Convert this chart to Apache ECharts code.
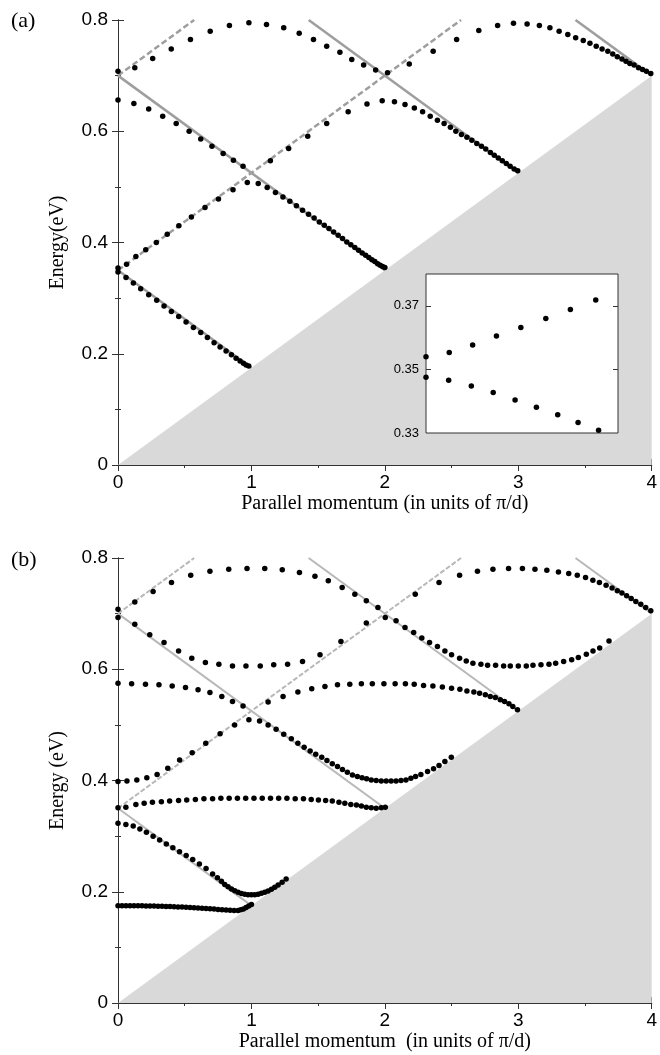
<!DOCTYPE html>
<html style="height: 100%">
<head>
<meta charset="utf-8">
<script src="https://cdn.jsdelivr.net/npm/echarts@6/dist/echarts.min.js"></script>
</head>
<body style="height: 100%; margin: 0; background: #fff">
<div id="container" style="width: 660px; height: 1055px"></div>
<script type="text/javascript">
// light cone and folded light lines (shared by both panels)
var lightCone = [[0, 0], [4, 0.7]];
var upLines = [[[0, 0.35], [2.571, 0.8]], [[0, 0.7], [0.571, 0.8]]];
var downLines = [[[0, 0.35], [1, 0.175]], [[0, 0.7], [2, 0.35]], [[1.429, 0.8], [3, 0.525]], [[3.429, 0.8], [4, 0.7]]];

// panel (a) bands
var aBand1 = [[0,0.708],[0.126,0.714],[0.260,0.731],[0.399,0.748],[0.543,0.765],[0.691,0.780],[0.835,0.790],[0.981,0.795],[1.113,0.792],[1.242,0.786],[1.358,0.776],[1.465,0.765],[1.564,0.753],[1.663,0.742],[1.752,0.729],[1.841,0.719],[1.931,0.710],[2.02,0.705],[2.183,0.721],[2.362,0.744],[2.538,0.765],[2.704,0.781],[2.845,0.790],[2.964,0.794],[3.066,0.793],[3.158,0.790],[3.237,0.786],[3.306,0.780],[3.371,0.774],[3.430,0.768],[3.487,0.763],[3.537,0.758],[3.584,0.753],[3.628,0.748],[3.671,0.744],[3.708,0.739],[3.742,0.734],[3.777,0.730],[3.807,0.726],[3.836,0.722],[3.868,0.719],[3.901,0.714],[3.931,0.711],[3.960,0.708],[3.993,0.704]];
var aBand2 = [[0,0.656],[0.119,0.650],[0.230,0.640],[0.335,0.627],[0.436,0.614],[0.533,0.600],[0.620,0.586],[0.704,0.573],[0.788,0.560],[0.865,0.548],[0.937,0.537],[1.142,0.547],[1.279,0.569],[1.422,0.591],[1.564,0.614],[1.725,0.635],[1.866,0.649],[1.980,0.655],[2.072,0.653],[2.151,0.648],[2.221,0.642],[2.283,0.635],[2.340,0.627],[2.394,0.620],[2.444,0.614],[2.491,0.607],[2.532,0.600],[2.574,0.594],[2.615,0.589],[2.652,0.584],[2.689,0.578],[2.724,0.573],[2.756,0.568],[2.791,0.562],[2.820,0.557],[2.850,0.552],[2.880,0.547],[2.910,0.542],[2.939,0.537],[2.969,0.532],[2.996,0.529]];
var aBand3 = [[0,0.354],[0.064,0.361],[0.134,0.375],[0.208,0.387],[0.287,0.400],[0.369,0.415],[0.456,0.430],[0.550,0.446],[0.652,0.463],[0.753,0.478],[0.862,0.495],[0.969,0.508],[1.051,0.506],[1.118,0.499],[1.180,0.490],[1.236,0.482],[1.288,0.474],[1.337,0.466],[1.383,0.458],[1.428,0.451],[1.470,0.444],[1.509,0.437],[1.546,0.431],[1.581,0.425],[1.616,0.419],[1.650,0.413],[1.683,0.407],[1.715,0.401],[1.745,0.396],[1.775,0.391],[1.803,0.386],[1.830,0.381],[1.856,0.377],[1.880,0.373],[1.903,0.369],[1.925,0.366],[1.946,0.362],[1.965,0.359],[1.983,0.357],[2.000,0.355]];
var aBand4 = [[0,0.347],[0.06,0.337],[0.115,0.327],[0.17,0.317],[0.23,0.306],[0.29,0.296],[0.345,0.286],[0.40,0.276],[0.455,0.267],[0.51,0.257],[0.565,0.247],[0.62,0.238],[0.67,0.229],[0.72,0.220],[0.765,0.212],[0.81,0.205],[0.85,0.198],[0.885,0.192],[0.915,0.187],[0.94,0.183],[0.96,0.180],[0.98,0.178]];

// inset of panel (a): zoom near k = 0, E = 0.35
var insetUpper = [[0,0.354],[0.0121,0.3553],[0.0243,0.3577],[0.0367,0.3605],[0.0494,0.3632],[0.0624,0.366],[0.0752,0.3688],[0.0884,0.3718]];
var insetLower = [[0,0.3475],[0.0118,0.3466],[0.0236,0.3448],[0.0350,0.3427],[0.0464,0.3404],[0.0575,0.3381],[0.0686,0.3357],[0.0792,0.3333],[0.0899,0.3309]];
var insetLabels = [0.33, 0.35, 0.37];
var insetTicks = [0.35, 0.37];

// panel (b) bands
var bBand1 = [[0,0.708],[0.126,0.721],[0.263,0.740],[0.401,0.756],[0.545,0.769],[0.689,0.776],[0.830,0.780],[0.967,0.781],[1.100,0.781],[1.231,0.779],[1.360,0.774],[1.476,0.767],[1.576,0.759],[1.680,0.747],[1.775,0.735],[1.861,0.723],[1.948,0.711],[2.228,0.735],[2.406,0.756],[2.560,0.769],[2.694,0.776],[2.810,0.780],[2.927,0.781],[3.031,0.781],[3.125,0.780],[3.214,0.778],[3.301,0.775],[3.378,0.772],[3.442,0.769],[3.504,0.765],[3.559,0.760],[3.608,0.756],[3.658,0.751],[3.703,0.746],[3.742,0.741],[3.777,0.737],[3.812,0.732],[3.846,0.727],[3.881,0.722],[3.918,0.717],[3.955,0.711],[3.993,0.705]];
var bBand2 = [[0,0.693],[0.126,0.681],[0.238,0.662],[0.345,0.648],[0.454,0.633],[0.553,0.620],[0.655,0.612],[0.756,0.609],[0.858,0.606],[0.959,0.606],[1.066,0.606],[1.167,0.608],[1.271,0.609],[1.383,0.614],[1.514,0.626],[1.671,0.650],[1.861,0.683],[2.003,0.693],[2.084,0.687],[2.151,0.675],[2.216,0.666],[2.277,0.656],[2.335,0.648],[2.394,0.641],[2.45,0.633],[2.50,0.626],[2.56,0.620],[2.61,0.615],[2.66,0.611],[2.72,0.609],[2.77,0.607],[2.83,0.607],[2.89,0.606],[2.94,0.606],[3.00,0.606],[3.06,0.606],[3.11,0.607],[3.17,0.608],[3.23,0.609],[3.28,0.611],[3.34,0.614],[3.40,0.617],[3.45,0.621],[3.51,0.627],[3.56,0.633],[3.61,0.638],[3.68,0.651]];
var bBand3 = [[0,0.575],[0.102,0.574],[0.206,0.573],[0.307,0.572],[0.406,0.570],[0.506,0.567],[0.600,0.563],[0.689,0.558],[0.778,0.551],[0.858,0.542],[0.937,0.534],[1.125,0.541],[1.237,0.551],[1.348,0.559],[1.452,0.565],[1.551,0.569],[1.645,0.572],[1.737,0.573],[1.824,0.574],[1.906,0.574],[1.993,0.574],[2.077,0.574],[2.154,0.574],[2.22,0.573],[2.290,0.571],[2.36,0.570],[2.431,0.568],[2.50,0.566],[2.562,0.564],[2.615,0.561],[2.667,0.559],[2.71,0.557],[2.753,0.554],[2.79,0.551],[2.828,0.549],[2.865,0.545],[2.897,0.542],[2.93,0.538],[2.959,0.533],[2.994,0.527]];
var bBand4 = [[0,0.398],[0.067,0.399],[0.141,0.401],[0.216,0.405],[0.293,0.411],[0.373,0.422],[0.462,0.437],[0.556,0.450],[0.658,0.467],[0.765,0.484],[0.874,0.500],[0.981,0.509],[1.061,0.507],[1.125,0.500],[1.185,0.492],[1.242,0.483],[1.299,0.475],[1.348,0.467],[1.395,0.460],[1.440,0.453],[1.482,0.447],[1.527,0.442],[1.566,0.436],[1.606,0.430],[1.645,0.425],[1.682,0.420],[1.719,0.415],[1.757,0.410],[1.794,0.407],[1.829,0.405],[1.863,0.403],[1.898,0.401],[1.935,0.400],[1.973,0.399],[2.010,0.399],[2.047,0.399],[2.084,0.399],[2.121,0.400],[2.158,0.401],[2.195,0.404],[2.23,0.407],[2.27,0.411],[2.32,0.416],[2.365,0.421],[2.406,0.427],[2.45,0.434],[2.498,0.442]];
var bBand5 = [[0,0.351],[0.059,0.352],[0.134,0.357],[0.196,0.359],[0.258,0.361],[0.325,0.362],[0.387,0.363],[0.454,0.364],[0.515,0.365],[0.580,0.366],[0.644,0.367],[0.709,0.367],[0.771,0.368],[0.833,0.368],[0.895,0.368],[0.957,0.368],[1.019,0.368],[1.081,0.368],[1.143,0.368],[1.204,0.368],[1.266,0.368],[1.328,0.367],[1.390,0.367],[1.448,0.366],[1.502,0.365],[1.556,0.364],[1.606,0.363],[1.656,0.361],[1.700,0.359],[1.745,0.357],[1.787,0.356],[1.824,0.354],[1.861,0.352],[1.898,0.351],[1.935,0.350],[1.973,0.351],[2.003,0.352]];
var bBand6 = [[0,0.323],[0.059,0.321],[0.114,0.318],[0.164,0.313],[0.213,0.307],[0.263,0.300],[0.312,0.293],[0.362,0.286],[0.411,0.279],[0.461,0.272],[0.511,0.265],[0.560,0.258],[0.610,0.250],[0.660,0.242],[0.709,0.232],[0.745,0.225],[0.775,0.219],[0.80,0.213],[0.825,0.209],[0.85,0.205],[0.875,0.202],[0.90,0.199],[0.925,0.197],[0.95,0.1955],[0.975,0.1948],[1.00,0.1945],[1.025,0.1948],[1.05,0.1957],[1.075,0.1972],[1.10,0.199],[1.125,0.2015],[1.15,0.2045],[1.175,0.208],[1.20,0.212],[1.23,0.217],[1.26,0.223]];
var bBand7 = [[0,0.175],[0.03,0.175],[0.06,0.175],[0.09,0.175],[0.12,0.175],[0.15,0.175],[0.18,0.1748],[0.21,0.1746],[0.24,0.1744],[0.27,0.1742],[0.30,0.174],[0.33,0.1738],[0.36,0.1736],[0.39,0.1733],[0.42,0.173],[0.45,0.1727],[0.48,0.1724],[0.51,0.172],[0.54,0.1716],[0.57,0.1712],[0.60,0.1708],[0.63,0.1703],[0.66,0.1698],[0.69,0.1693],[0.72,0.1688],[0.75,0.1683],[0.78,0.1677],[0.81,0.1671],[0.84,0.1666],[0.87,0.1663],[0.90,0.1665],[0.92,0.1675],[0.94,0.169],[0.96,0.1715],[0.98,0.1745],[1.0,0.177]];

var xTickLabels = ['0', '1', '2', '3', '4'];
var yTickLabels = ['0', '0.2', '0.4', '0.6', '0.8'];

var dom = document.getElementById('container');
var myChart = echarts.init(dom, null, { renderer: 'canvas' });

var axisColor = '#333';
var tickFont = { color: '#000', fontSize: 19, fontFamily: 'Liberation Sans, Arial, sans-serif' };

function xAx(grid, name, top) {
    return {
        type: 'value', gridIndex: grid, min: 0, max: 4, interval: 1,
        position: top ? 'top' : 'bottom',
        name: top ? '' : name, nameLocation: 'middle', nameGap: 29,
        nameTextStyle: { fontFamily: 'Liberation Serif, Times New Roman, serif', fontSize: 20, color: '#000' },
        axisLine: { show: true, lineStyle: { color: axisColor, width: 1 } },
        axisTick: { show: true, inside: true, length: 6, lineStyle: { color: axisColor } },
        minorTick: { show: true, splitNumber: 2, length: 3, lineStyle: { color: axisColor } },
        axisLabel: Object.assign({ show: !top, margin: 8, formatter: function (v) { return xTickLabels[Math.round(v)]; } }, tickFont),
        splitLine: { show: false }
    };
}
function yAx(grid, name, right) {
    return {
        type: 'value', gridIndex: grid, min: 0, max: 0.8, interval: 0.2,
        position: right ? 'right' : 'left',
        name: right ? '' : name, nameLocation: 'middle', nameGap: 50, nameRotate: 90,
        nameTextStyle: { fontFamily: 'Liberation Serif, Times New Roman, serif', fontSize: 20, color: '#000' },
        axisLine: { show: true, lineStyle: { color: axisColor, width: 1 } },
        axisTick: { show: true, inside: true, length: 6, lineStyle: { color: axisColor } },
        minorTick: { show: true, splitNumber: 2, length: 3, lineStyle: { color: axisColor } },
        axisLabel: Object.assign({ show: !right, margin: 10, formatter: function (v) { return yTickLabels[Math.round(v / 0.2)]; } }, tickFont),
        splitLine: { show: false }
    };
}

function coneSeries(xi, yi) {
    return {
        type: 'line', xAxisIndex: xi, yAxisIndex: yi, data: lightCone, symbol: 'none',
        lineStyle: { width: 0, opacity: 0 }, areaStyle: { color: '#d9d9d9', opacity: 1 },
        silent: true, z: 1
    };
}
function lineSeries(seg, xi, yi, color, width, type) {
    return {
        type: 'line', xAxisIndex: xi, yAxisIndex: yi, data: seg, symbol: 'none',
        lineStyle: { color: color, width: width, type: type }, silent: true, z: 2
    };
}
function dotSeries(data, xi, yi, size) {
    return {
        type: 'scatter', xAxisIndex: xi, yAxisIndex: yi, data: data,
        symbol: 'circle', symbolSize: size, itemStyle: { color: '#000', opacity: 1 }, z: 3
    };
}

var series = [];
// panel (a): axes 0 (x) / 0 (y)
series.push(coneSeries(0, 0));
upLines.forEach(function (s) { series.push(lineSeries(s, 0, 0, '#9e9e9e', 2.5, [6, 3])); });
downLines.forEach(function (s) { series.push(lineSeries(s, 0, 0, '#9e9e9e', 2.5, 'solid')); });
[aBand1, aBand2, aBand3, aBand4].forEach(function (b) { series.push(dotSeries(b, 0, 0, 5.5)); });
// inset: axes 2 / 2
series.push(Object.assign(dotSeries(insetUpper, 2, 2, 5.5), { z: 10 }));
series.push(Object.assign(dotSeries(insetLower, 2, 2, 5.5), { z: 10 }));
// panel (b): axes 3 / 4
series.push(coneSeries(3, 4));
upLines.forEach(function (s) { series.push(lineSeries(s, 3, 4, '#b8b8b8', 2, [5, 2])); });
downLines.forEach(function (s) { series.push(lineSeries(s, 3, 4, '#b8b8b8', 2, 'solid')); });
[bBand1, bBand2, bBand3, bBand4, bBand5, bBand6, bBand7].forEach(function (b) { series.push(dotSeries(b, 3, 4, 5.5)); });

var insetY = function (right) {
    return {
        type: 'value', gridIndex: 1, min: 0.33, max: 0.38, position: right ? 'right' : 'left', z: 8,
        axisLine: { show: false },
        axisTick: { show: true, inside: true, length: 5, customValues: insetTicks, lineStyle: { color: axisColor } },
        axisLabel: { show: !right, margin: 7, customValues: insetLabels, color: '#000', fontSize: 13,
            fontFamily: 'Liberation Sans, Arial, sans-serif', formatter: function (v) { return v.toFixed(2); } },
        splitLine: { show: false }
    };
};

var option = {
    animation: false,
    backgroundColor: '#fff',
    grid: [
        { left: 118, top: 20, width: 538, height: 445 },
        { left: 426, top: 274, width: 192, height: 159, show: true, backgroundColor: '#fff', borderColor: axisColor, borderWidth: 1, z: 5 },
        { left: 118, top: 558, width: 538, height: 445 }
    ],
    xAxis: [
        xAx(0, 'Parallel momentum (in units of \u03c0/d)', false),
        xAx(0, '', true),
        { type: 'value', gridIndex: 1, min: 0, max: 0.1, show: false },
        xAx(2, 'Parallel momentum  (in units of \u03c0/d)', false),
        xAx(2, '', true)
    ],
    yAxis: [
        yAx(0, 'Energy(eV)', false),
        yAx(0, '', true),
        insetY(false),
        insetY(true),
        yAx(2, 'Energy (eV)', false),
        yAx(2, '', true)
    ],
    graphic: [
        { type: 'text', left: 11, top: 10, style: { text: '(a)', fontFamily: 'Liberation Serif, Times New Roman, serif', fontSize: 22, fill: '#000' } },
        { type: 'text', left: 11, top: 549, style: { text: '(b)', fontFamily: 'Liberation Serif, Times New Roman, serif', fontSize: 22, fill: '#000' } }
    ],
    series: series
};

if (option && typeof option === 'object') {
    myChart.setOption(option, true);
}
</script>
</body>
</html>
